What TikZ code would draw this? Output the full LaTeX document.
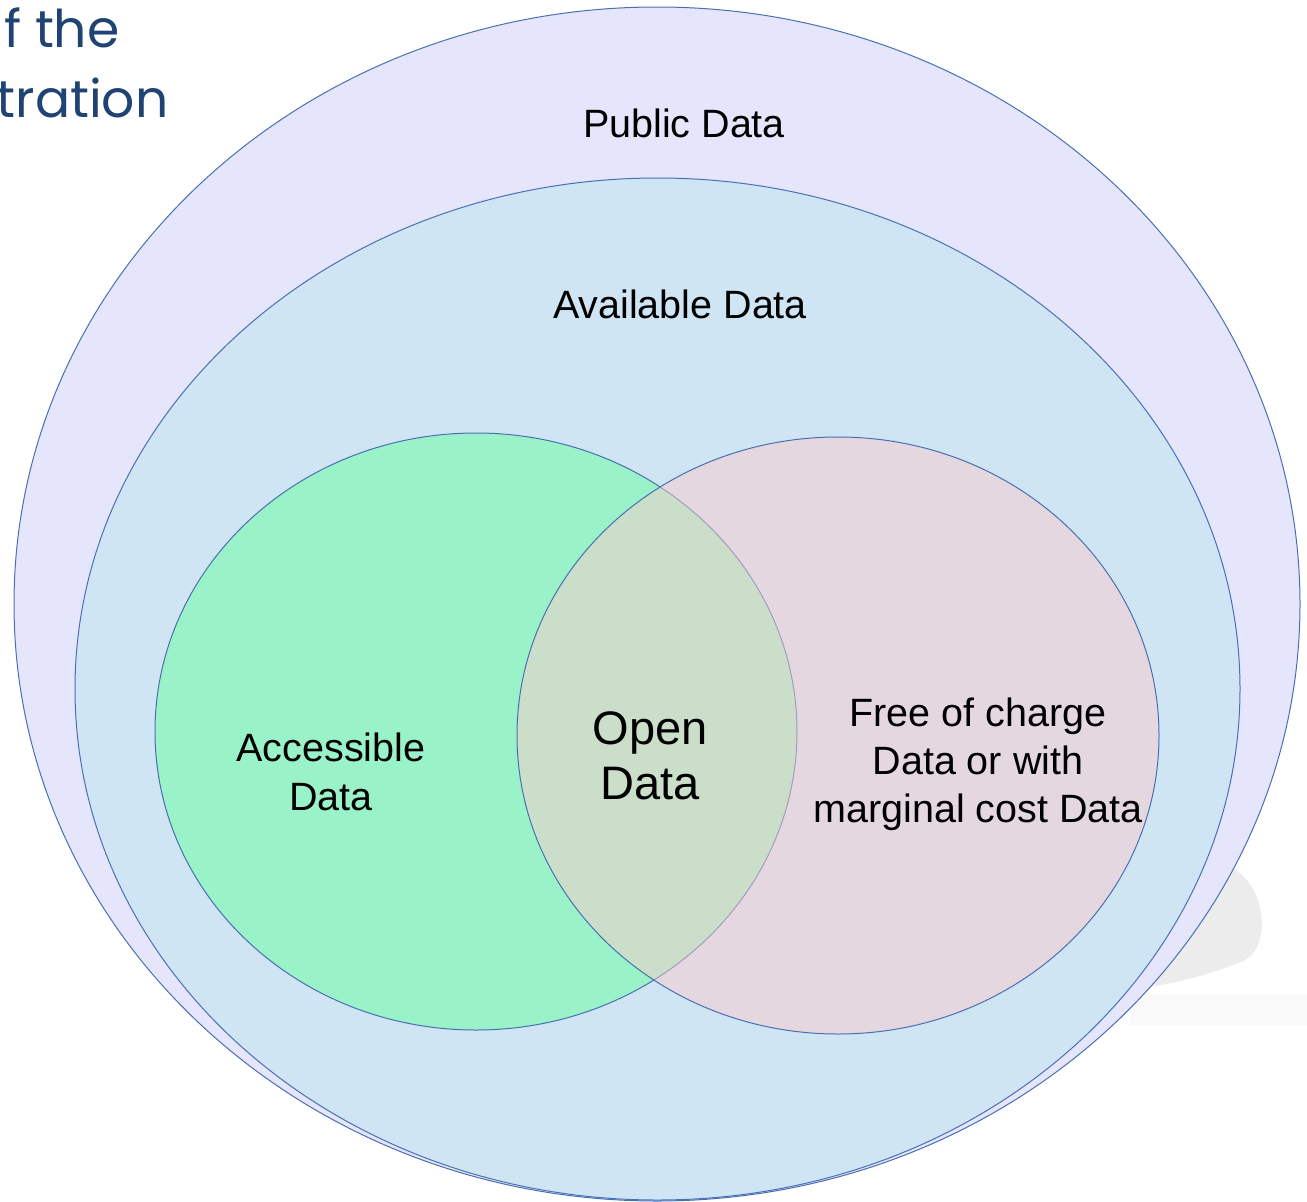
\documentclass[tikz,border=0pt]{standalone}
\usepackage{fontspec}
\setmainfont{Liberation Sans}
\newfontfamily\titlefont{Poppins}
\usetikzlibrary{shapes.geometric}
\definecolor{setline}{HTML}{4A70B4}
\definecolor{publicfill}{HTML}{E5E5FB}
\definecolor{availfill}{HTML}{CFE5F3}
\definecolor{accessfill}{HTML}{99F2C8}
\definecolor{freefill}{HTML}{FBCBCD}
\definecolor{titleblue}{HTML}{1F4373}
\tikzset{
  setshape/.style={ellipse, draw=setline, line width=1pt, inner sep=0pt},
  setlabel/.style={align=center, text=black},
  titletext/.style={anchor=base east, text=titleblue, font=\titlefont\fontsize{52}{60}\selectfont},
}
\begin{document}
\begin{tikzpicture}[x=1pt, y=-1pt]
  \clip (0,0) rectangle (1307,1202);
  \fill[white] (0,0) rectangle (1307,1202);
  % faint grey shape behind the sets
  \fill[gray!5] (1130,995) rectangle (1307,1025);
  \fill[gray!15] (1222,862) .. controls (1268,880) and (1272,945) .. (1245,960)
    .. controls (1210,975) and (1170,985) .. (1130,990) -- (1130,900) -- cycle;
  % title fragments
  \node[titletext] (titleA) at (123,47) {f the};
  \node[titletext] (titleB) at (172,117) {tration};
  % sets
  \node[setshape, fill=publicfill, minimum width=1286pt, minimum height=1194pt] (public) at (657,604) {};
  \node[setshape, fill=availfill, minimum width=1165pt, minimum height=1022pt] (available) at (657.5,689) {};
  \node[setshape, fill=accessfill, minimum width=642pt, minimum height=597pt] (accessible) at (476,731.5) {};
  \node[setshape, fill=freefill, fill opacity=0.5, minimum width=642pt, minimum height=597pt] (free) at (838,735.5) {};
  % labels
  \node[setlabel, anchor=base, font=\fontsize{39.5}{48}\selectfont] (publicText) at (684,137) {Public Data};
  \node[setlabel, anchor=base, font=\fontsize{39.5}{48}\selectfont] (availText) at (680,318) {Available Data};
  \node[setlabel, font=\fontsize{39.5}{49}\selectfont] (accessText) at (331,772) {Accessible\\Data};
  \node[setlabel, font=\fontsize{47}{55}\selectfont] (openText) at (650,755.5) {Open\\Data};
  \node[setlabel, font=\fontsize{39.5}{48}\selectfont] (freeText) at (978,764) {Free of charge\\Data or with\\marginal cost Data};
\end{tikzpicture}
\end{document}
